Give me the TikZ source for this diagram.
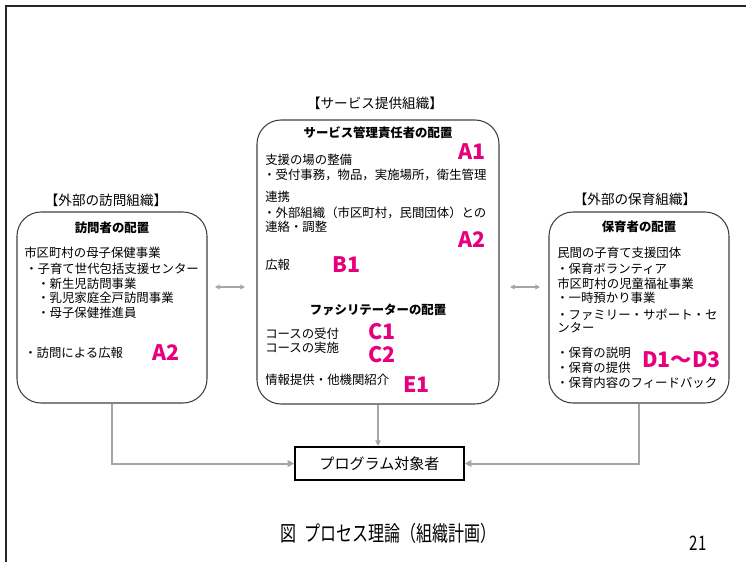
\documentclass[tikz,border=0pt]{standalone}
\usepackage{fontspec}
\setmainfont{Noto Sans CJK JP}
\usetikzlibrary{arrows.meta}
\definecolor{tagpink}{RGB}{230,0,126}
\definecolor{linegray}{RGB}{165,165,165}
\begin{document}
\begin{tikzpicture}[x=0.75pt,y=-0.75pt,
 orgbox/.style={draw=black!75, line width=0.8pt, rounded corners=18pt, inner sep=0pt},
 txt/.style={anchor=west, inner sep=0pt, font=\fontsize{9.3}{11}\selectfont},
 hd/.style={anchor=center, inner sep=0pt, font=\fontsize{9.3}{11}\selectfont\bfseries},
 tag/.style={anchor=west, inner sep=0pt, text=tagpink, font=\fontsize{16}{18}\selectfont\bfseries},
 ttl/.style={anchor=center, inner sep=0pt, font=\fontsize{10.2}{12}\selectfont},
 conn/.style={draw=linegray, line width=1.5pt, -{Triangle[length=5pt,width=5pt]}},
 thinconn/.style={draw=linegray, line width=0.9pt, -{Triangle[length=4.5pt,width=4pt]}},
 dbl/.style={draw=linegray, line width=0.9pt, {Triangle[length=3.5pt,width=3.5pt]}-{Triangle[length=3.5pt,width=3.5pt]}}
]
\useasboundingbox (0,0) rectangle (746,562);
\draw[line width=1.5pt, black!85] (6,562) -- (6,6) -- (746,6);

% boxes
\node[orgbox, minimum width=142.5pt, minimum height=143.25pt] (L) at (112,307.5) {};
\node[orgbox, minimum width=181.5pt, minimum height=213pt] (C) at (378,262) {};
\node[orgbox, minimum width=135pt, minimum height=143.25pt] (R) at (639,307.5) {};
\node[draw=black, line width=1.1pt, minimum width=126.75pt, minimum height=24.75pt, inner sep=0pt,
      font=\fontsize{11.3}{13}\selectfont] (T) at (379.5,463.5) {プログラム対象者};

% titles
\node[ttl] (tL) at (106,200) {【外部の訪問組織】};
\node[ttl] (tC) at (375,103) {【サービス提供組織】};
\node[ttl] (tR) at (635,199) {【外部の保育組織】};

% left box contents
\node[hd] (l0) at (112,228) {訪問者の配置};
\node[txt] (l1) at (24,253) {市区町村の母子保健事業};
\node[txt] (l2) at (25,269) {・子育て世代包括支援センター};
\node[txt] (l3) at (37,284) {・新生児訪問事業};
\node[txt] (l4) at (37,298) {・乳児家庭全戸訪問事業};
\node[txt] (l5) at (37,313) {・母子保健推進員};
\node[txt] (l6) at (24,353) {・訪問による広報};
\node[tag] (lA2) at (152,353) {A2};

% center box contents
\node[hd] (c0) at (378,133) {サービス管理責任者の配置};
\node[txt] (c1) at (265,160) {支援の場の整備};
\node[tag] (cA1) at (458,152) {A1};
\node[txt] (c2) at (263,175) {・受付事務，物品，実施場所，衛生管理};
\node[txt] (c3) at (265,197) {連携};
\node[txt] (c4) at (263,213) {・外部組織（市区町村，民間団体）との};
\node[txt] (c5) at (265,227) {連絡・調整};
\node[tag] (cA2) at (458,240) {A2};
\node[txt] (c6) at (265,265) {広報};
\node[tag] (cB1) at (332,265) {B1};
\node[hd] (c7) at (378,310) {ファシリテーターの配置};
\node[txt] (c8) at (265,334) {コースの受付};
\node[tag] (cC1) at (368,332) {C1};
\node[txt] (c9) at (265,348) {コースの実施};
\node[tag] (cC2) at (368,355) {C2};
\node[txt] (c10) at (265,380) {情報提供・他機関紹介};
\node[tag] (cE1) at (403,385) {E1};

% right box contents
\node[hd] (r0) at (639,227) {保育者の配置};
\node[txt] (r1) at (557,253) {民間の子育て支援団体};
\node[txt] (r2) at (556,269) {・保育ボランティア};
\node[txt] (r3) at (557,284) {市区町村の児童福祉事業};
\node[txt] (r4) at (556,298) {・一時預かり事業};
\node[txt] (r5) at (556,315) {・ファミリー・サポート・セ};
\node[txt] (r6) at (557,328) {ンター};
\node[txt] (r7) at (556,353) {・保育の説明};
\node[txt] (r8) at (556,368) {・保育の提供};
\node[txt] (r9) at (556,383) {・保育内容のフィードバック};
\node[tag] (rD) at (642,360) {D1～D3};

% connectors
\draw[conn] (L.south) |- (T.west);
\draw[conn] (R.south) |- (T.east);
\draw[thinconn] (C.south) -- (C.south |- T.north);
\coordinate (la) at (215,287);
\coordinate (lb) at (245,287);
\coordinate (ra) at (510,287);
\coordinate (rb) at (540,287);
\draw[dbl] (la) -- (lb);
\draw[dbl] (ra) -- (rb);

% caption
\node[inner sep=0pt] (cap) at (388,533) {\scalebox{0.75}[1]{\fontsize{16}{19}\selectfont 図\hspace{0.5em}プロセス理論（組織計画）}};
\node[inner sep=0pt] (pg) at (698,543) {\scalebox{0.75}[1]{\fontsize{15}{18}\selectfont 21}};
\end{tikzpicture}
\end{document}
